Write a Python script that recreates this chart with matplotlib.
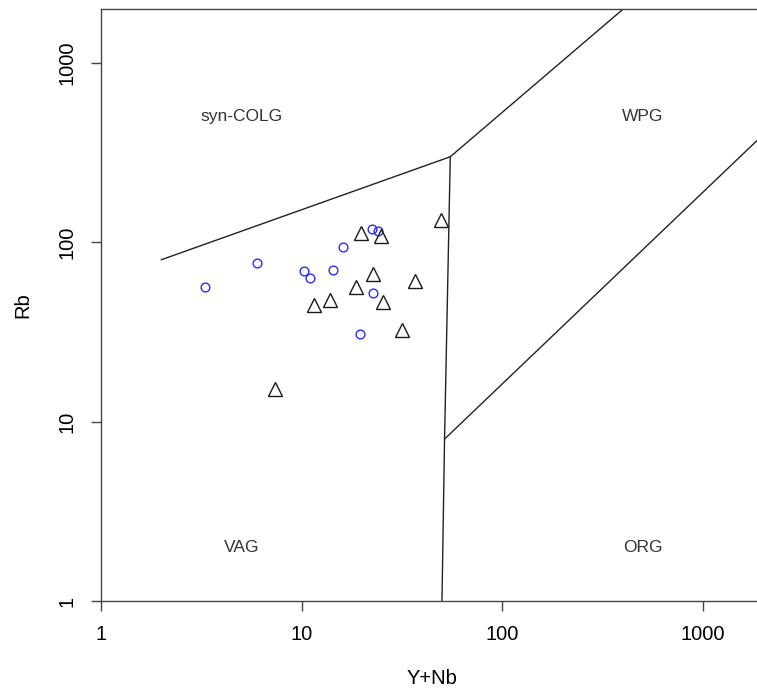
import matplotlib.pyplot as plt

plt.rcParams['font.family'] = ['Liberation Sans', 'DejaVu Sans']

# Pearce et al. (1984) Rb vs (Y+Nb) field boundaries
colg_vag_x = [2, 55]
colg_vag_y = [80, 300]
colg_wpg_x = [55, 400]
colg_wpg_y = [300, 2000]
vag_split_x = [55, 51.5, 50]
vag_split_y = [300, 8, 1]
wpg_org_x = [51.5, 2000]
wpg_org_y = [8, 400]

# samples, group 1 (open circles)
grp1_ynb = [3.3, 6.0, 10.3, 11.0, 14.3, 16.1, 22.4, 23.9, 22.7, 19.6]
grp1_rb = [56, 77, 69.5, 63, 70.5, 94, 119, 115, 52, 31]

# samples, group 2 (open triangles)
grp2_ynb = [19.8, 24.8, 49.6, 22.7, 36.8, 18.6, 13.9, 11.5, 25.3, 31.7, 7.4]
grp2_rb = [113, 109, 134, 66.5, 60.5, 56, 47.5, 44.5, 46.5, 32.5, 15.3]

field_names = ['syn-COLG', 'WPG', 'VAG', 'ORG']
field_x = [5, 500, 5, 500]
field_y = [500, 500, 2, 2]

fig = plt.figure(figsize=(7.57, 6.95), dpi=100)
ax = fig.add_axes([101 / 757, 94 / 695, 662.5 / 757, 592 / 695])
ax.set_xscale('log')
ax.set_yscale('log')
ax.set_xlim(1, 2000)
ax.set_ylim(1, 2000)

line_kw = dict(color='#222222', lw=1.0)
ax.plot(colg_vag_x, colg_vag_y, **line_kw)
ax.plot(colg_wpg_x, colg_wpg_y, **line_kw)
ax.plot(vag_split_x, vag_split_y, **line_kw)
ax.plot(wpg_org_x, wpg_org_y, **line_kw)

ax.plot(grp1_ynb, grp1_rb, 'o', ms=6.3, mfc='none', mec='#2b2bff', mew=1.0, ls='none')
ax.plot(grp2_ynb, grp2_rb, '^', ms=9.5, mfc='none', mec='#1a1a1a', mew=1.0, ls='none')

for name, x, y in zip(field_names, field_x, field_y):
    ax.text(x, y, name, ha='center', va='center', fontsize=12.5, color='#333333')

ax.set_xticks([1, 10, 100, 1000])
ax.set_xticklabels(['1', '10', '100', '1000'])
ax.set_yticks([1, 10, 100, 1000])
ax.set_yticklabels(['1', '10', '100', '1000'], rotation=90, va='center')
ax.minorticks_off()
ax.tick_params(direction='out', length=7.5, width=1.0, color='#444444',
               labelsize=14.5, pad=10)

for s in ax.spines.values():
    s.set_color('#444444')
    s.set_linewidth(1.0)

ax.set_xlabel('Y+Nb', fontsize=14.5, labelpad=18)
ax.set_ylabel('Rb', fontsize=14.5, labelpad=18)

fig.savefig('out.png', dpi=100)
